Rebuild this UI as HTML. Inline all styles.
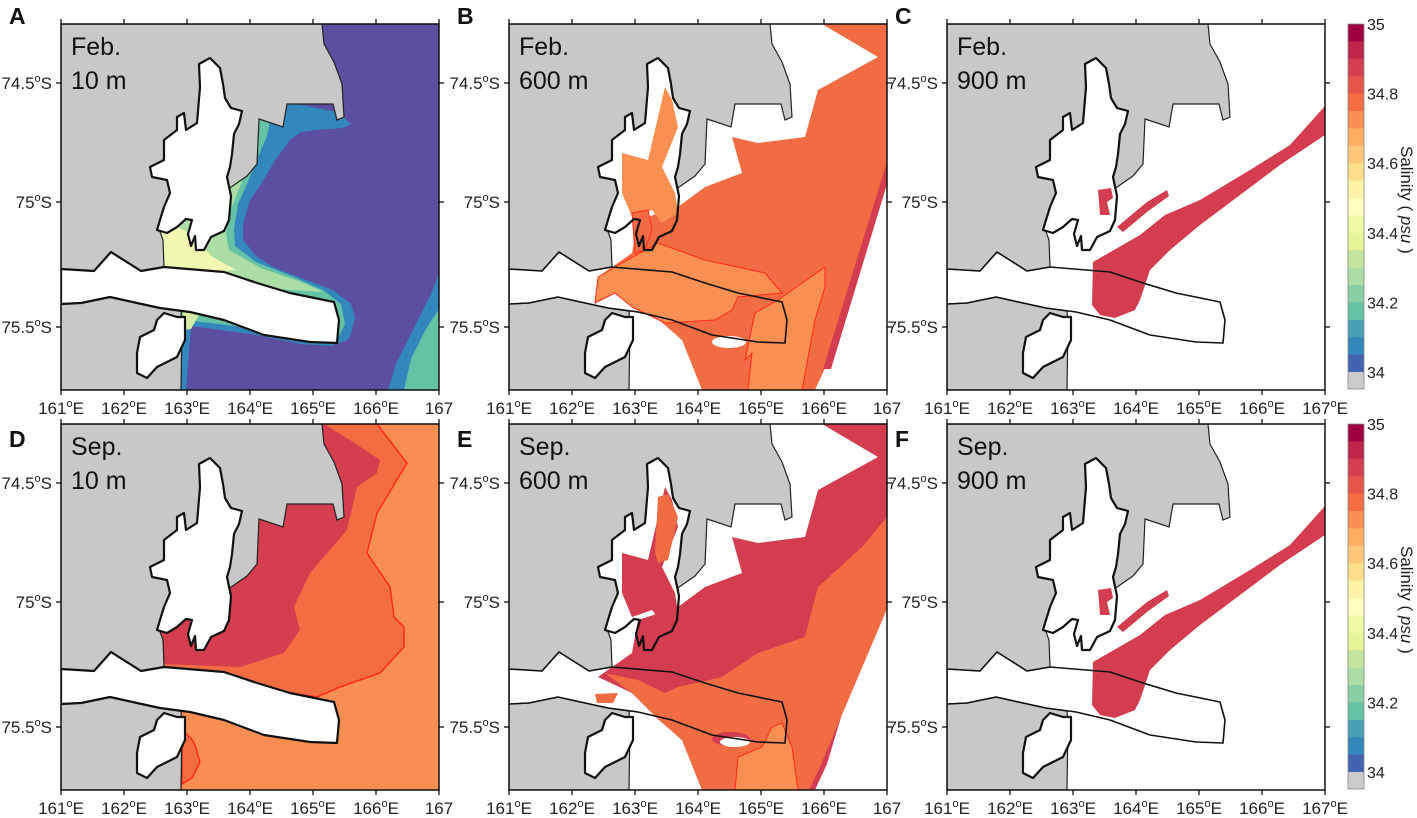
<!DOCTYPE html>
<html><head><meta charset="utf-8"><style>
html,body{margin:0;padding:0;background:#fff;}
svg{display:block;font-family:"Liberation Sans",Arial,sans-serif;}
</style></head><body>
<svg id="fig" width="1417" height="818" viewBox="0 0 1417 818" xmlns="http://www.w3.org/2000/svg">
<defs id="defs"></defs>
<g id="root"></g>
</svg>
<script>
// ---- axis / legend data ----
const lonLabels = ["161","162","163","164","165","166","167"];
const latLabels = ["74.5","75","75.5"];
const latPos = [59, 178, 303]; // local y of latitude ticks (map projection)
const cbLevels = ["35","34.8","34.6","34.4","34.2","34"];
const cbColors = ["#9e0142","#be2549","#d53e4f","#e55749","#f46d43","#f88d51","#fdae61","#fec877","#fee08b","#fff2a9","#ffffbf","#f0f9a8","#e6f598","#c4e6a0","#abdda4","#86cfa5","#66c2a5","#47a1b4","#3288bd","#4263b0"];
const panelMonths = ["Feb.","Feb.","Feb.","Sep.","Sep.","Sep."];
const panelDepths = ["10 m","600 m","900 m","10 m","600 m","900 m"];
const panelLetters = ["A","B","C","D","E","F"];

const NS="http://www.w3.org/2000/svg";
const W=378,H=366;
const colX=[61,509,947], rowY=[24,424];
const GRAY="#c8c8c8";

const geo={
 landN:"0,0 261,0 263,20 273,38 281,60 283,93 276,96 272,80 226,80 222,103 198,95 196,140 186,152 160,170 110,185 98,205 102,216 103,243 80,247 50,228 33,247 0,245",
 landS:"0,280 20,279 49,273 76,279 99,284 120,287 121,300 120,366 0,366",
 pen:"149,34 159,44 162,60 164,74 170,84 181,87 178,100 173,110 171,130 169,143 166,153 170,172 168,196 163,207 150,213 143,226 135,226 134,212 130,222 127,210 131,196 125,195 116,203 106,209 96,206 99,196 103,183 109,169 106,156 91,153 89,143 103,136 103,116 116,106 116,93 123,89 125,106 136,99 139,63 138,40",
 tongue:"0,245 33,247 50,228 80,247 103,243 163,248 196,259 229,269 273,278 278,296 276,319 249,318 203,311 163,296 129,288 99,284 76,279 49,273 20,279 0,280",
 island:"103,289 116,293 124,293 124,316 116,333 96,343 86,354 76,349 76,329 79,313 93,306 96,296"
};
function toPath(p){return "M"+p.trim().split(/\s+/).join(" L")+" Z";}

const defs=document.getElementById('defs');
defs.innerHTML=`
<clipPath id="clipPanel"><rect x="0" y="0" width="${W}" height="${H}"/></clipPath>
<clipPath id="clipOcean"><path clip-rule="evenodd" d="M0 0 H${W} V${H} H0 Z ${toPath(geo.landN)} ${toPath(geo.landS)}"/><polygon points="${geo.pen}"/></clipPath>`;

const root=document.getElementById('root');
function poly(g,pts,fill,extra){
 const p=document.createElementNS(NS,'polygon');
 p.setAttribute('points',pts);p.setAttribute('fill',fill);
 if(extra)for(const k in extra)p.setAttribute(k,extra[k]);
 g.appendChild(p);return p;
}
function el(g,tag,attrs){const e=document.createElementNS(NS,tag);for(const k in attrs)e.setAttribute(k,attrs[k]);g.appendChild(e);return e;}

const RED="#ff2a1a";
const fields={
 A:g=>{
  el(g,'rect',{x:0,y:0,width:W,height:H,fill:"#5d4fa0"});
  poly(g,"190,0 190,88 226,78 276,88 290,100 282,104 255,106 240,108 229,116 215,135 200,160 189,176 182,200 182,216 195,232 212,243 240,254 272,266 290,280 294,293 290,310 286,316 270,322 240,320 190,310 130,302 125,366 0,366 0,0","#3288bd");
  poly(g,"190,0 190,90 210,92 206,112 196,135 186,160 177,180 173,205 174,222 195,238 230,252 262,266 280,280 284,300 278,312 240,312 190,304 125,296 0,300 0,0","#66c2a5");
  poly(g,"190,0 190,95 198,100 190,130 180,160 170,185 165,210 168,226 200,244 240,258 262,268 200,264 130,258 0,258 0,0","#abdda4");
  poly(g,"100,195 135,212 150,232 175,246 120,250 90,245","#f0f8b2");
  poly(g,"122,288 138,291 130,305 122,306","#d4eea5");
  poly(g,"378,249 370,270 355,300 335,340 327,366 378,366","#3288bd");
  poly(g,"378,285 365,305 350,335 343,366 378,366","#66c2a5");
 },
 D:g=>{
  el(g,'rect',{x:0,y:0,width:W,height:H,fill:"#f98e52"});
  poly(g,"100,0 316,0 346,39 316,89 306,129 329,163 333,193 343,203 343,223 319,249 279,263 256,273 100,250","#f36d43",{stroke:RED,"stroke-width":1.5});
  poly(g,"100,0 263,0 289,16 319,36 316,49 296,63 286,106 249,149 233,183 239,206 223,229 179,243 100,240","#d53e4f");
  poly(g,"121,305 133,318 139,338 131,354 121,360","#f36d43",{stroke:RED,"stroke-width":1.5});
  poly(g,"103,283 113,285 113,303 103,300","#f36d43");
 },
 B:g=>{
  poly(g,"313,0 378,0 378,140 318,340 306,366 193,366 173,316 150,296 123,269 89,253 123,229 129,196 169,183 196,163 233,149 223,113 249,119 296,113 309,66 369,33","#f26c43");
  poly(g,"378,138 378,160 322,345 314,345","#d43d50");
  poly(g,"113,129 139,136 156,63 163,76 169,103 153,143 166,169 169,189 153,199 143,186 123,193 113,169","#f98f50");
  poly(g,"123,189 139,186 143,206 136,226 126,229","#f26c43",{stroke:RED,"stroke-width":1});
  poly(g,"89,253 113,239 149,219 196,236 256,249 273,269 229,273 223,286 206,296 156,299 123,283 106,269 86,279","#f98f50",{stroke:RED,"stroke-width":1});
  poly(g,"269,276 316,243 316,263 306,296 293,366 239,366 243,329 236,336 246,289","#f98f50",{stroke:RED,"stroke-width":1});
  el(g,'ellipse',{cx:220,cy:318,rx:17,ry:6,fill:"#fff"});
 },
 E:g=>{
  poly(g,"313,0 378,0 378,140 318,340 306,366 193,366 173,316 150,296 123,269 89,253 123,229 129,196 169,183 196,163 233,149 223,113 249,119 296,113 309,66 369,33","#d43d50");
  poly(g,"113,129 139,136 156,63 163,76 169,103 153,143 166,169 169,189 153,199 143,186 123,193 113,169","#d43d50");
  poly(g,"378,93 353,123 309,163 296,213 249,229 213,253 169,263 156,269 129,256 96,249 123,269 150,296 173,316 193,366 300,366 310,345 378,185","#f26c43");
  poly(g,"226,366 229,333 253,323 263,303 273,299 283,323 289,366","#f98f50",{stroke:RED,"stroke-width":1});
  poly(g,"149,73 159,70 169,93 159,136 149,139 146,129","#f26c43");
  poly(g,"86,270 109,269 104,279 88,279","#f26c43");
  el(g,'ellipse',{cx:222,cy:315,rx:19,ry:7,fill:"#d43d50"});
  el(g,'ellipse',{cx:226,cy:318,rx:15,ry:5,fill:"#fff"});
 },
 C:g=>{
  poly(g,"146,238 193,211 218,191 253,176 303,146 343,121 378,82 378,111 333,141 293,171 253,201 223,226 203,246 193,276 188,286 168,294 153,291 145,281","#d43d50");
  poly(g,"151,166 164,164 166,174 160,178 163,191 153,191","#d43d50");
  poly(g,"170,203 200,178 220,166 222,172 200,188 176,208","#d43d50");
  poly(g,"15,288 38,289 37,294 16,295","#f36d43");
 }
};
fields.F=fields.C;

const letters=["A","B","C","D","E","F"];
letters.forEach((L,i)=>{
 const col=i%3,row=Math.floor(i/3);
 const x0=colX[col],y0=rowY[row];
 const panel=el(root,'g',{transform:`translate(${x0},${y0})`});
 
 
 const inner=el(panel,'g',{"clip-path":"url(#clipPanel)"});
 const surface = (L==="A"||L==="D");
 if(surface){
  const f=el(inner,'g',{});
  
  
  fields[L](f);
  poly(inner,geo.landN,GRAY,{stroke:"#222","stroke-width":1.2});
  poly(inner,geo.landS,GRAY,{stroke:"#222","stroke-width":1.2});
  poly(inner,geo.tongue,"#fff",{stroke:"#111","stroke-width":2.2,"stroke-linejoin":"round"});
  poly(inner,geo.pen,"#fff",{stroke:"#111","stroke-width":2.2,"stroke-linejoin":"round"});
  poly(inner,geo.island,"#fff",{stroke:"#111","stroke-width":2.2,"stroke-linejoin":"round"});
 } else {
  el(inner,'rect',{x:0,y:0,width:W,height:H,fill:"#fff"});
  poly(inner,geo.landN,GRAY,{stroke:"#222","stroke-width":1.2});
  poly(inner,geo.landS,GRAY,{stroke:"#222","stroke-width":1.2});
  poly(inner,geo.pen,"#fff");
  poly(inner,geo.island,"#fff");
  const f=el(inner,'g',{"clip-path":"url(#clipOcean)"});
  
  
  fields[L](f);
  poly(inner,geo.pen,"none",{stroke:"#111","stroke-width":2.2,"stroke-linejoin":"round"});
  poly(inner,geo.tongue,"none",{stroke:"#111","stroke-width":1.6,"stroke-linejoin":"round"});
  poly(inner,geo.island,"none",{stroke:"#111","stroke-width":2.2,"stroke-linejoin":"round"});
 }
 // frame
 el(panel,'rect',{x:0,y:0,width:W,height:H,fill:"none",stroke:"#111","stroke-width":1.5});
 // ticks
 lonLabels.forEach((lab,k)=>{
  const tx=k*W/(lonLabels.length-1);
  el(panel,'line',{x1:tx,y1:0,x2:tx,y2:-5,stroke:"#111","stroke-width":1.3});
  el(panel,'line',{x1:tx,y1:H,x2:tx,y2:H+5,stroke:"#111","stroke-width":1.3});
  const t=el(panel,'text',{x:tx,y:H+24,"text-anchor":"middle","font-size":17,fill:"#222"});
  
  
  const last = k===lonLabels.length-1 && col<2;
  t.innerHTML = last ? lab : `${lab}<tspan font-size="11" dy="-7">o</tspan><tspan dy="7">E</tspan>`;
 });
 latLabels.forEach((lab,k)=>{
  const ty=latPos[k];
  el(panel,'line',{x1:0,y1:ty,x2:-5,y2:ty,stroke:"#111","stroke-width":1.3});
  el(panel,'line',{x1:W,y1:ty,x2:W+5,y2:ty,stroke:"#111","stroke-width":1.3});
  const t=el(panel,'text',{x:-9,y:ty+6,"text-anchor":"end","font-size":17,fill:"#222"});
  
  
  t.innerHTML=`${lab}<tspan font-size="11" dy="-7">o</tspan><tspan dy="7">S</tspan>`;
 });
 // in-panel label
 const mt=el(panel,'text',{x:10,y:31,"font-size":25,fill:"#111"});
 
 
 mt.textContent=panelMonths[i];
 const dt=el(panel,'text',{x:10,y:65,"font-size":25,fill:"#111"});
 
 
 dt.textContent=panelDepths[i];
 // panel letter
 const lt=el(root,'text',{x:x0-52,y:row===0?24:447,"font-size":23,"font-weight":"bold",fill:"#111"});
 
 
 lt.textContent=panelLetters[i];
});

// colorbars
rowY.forEach((y0,r)=>{
 const cb=el(root,'g',{transform:`translate(1348,${y0})`});
 
 
 const bh=17.4;
 cbColors.forEach((c,k)=>{
  const rc=el(cb,'rect',{x:0,y:k*bh,width:16,height:bh+0.5,fill:c});
  
  
 });
 el(cb,'rect',{x:0,y:cbColors.length*bh,width:16,height:H-cbColors.length*bh-1,fill:"#cccccc"});
 el(cb,'rect',{x:0,y:0,width:16,height:H-1,fill:"none",stroke:"#888","stroke-width":0.8});
 cbLevels.forEach((lab,k)=>{
  const yy=k*4*bh;
  const t=el(cb,'text',{x:19,y:yy+6,"font-size":16,fill:"#222"});
  
  
  t.textContent=lab;
 });
 const tt=el(root,'text',{transform:`translate(1401,${y0+122}) rotate(90)`,"font-size":17,fill:"#222"});
 
 
 tt.innerHTML='Salinity (  <tspan font-style="italic">psu</tspan>   )';
});
</script>
</body></html>
